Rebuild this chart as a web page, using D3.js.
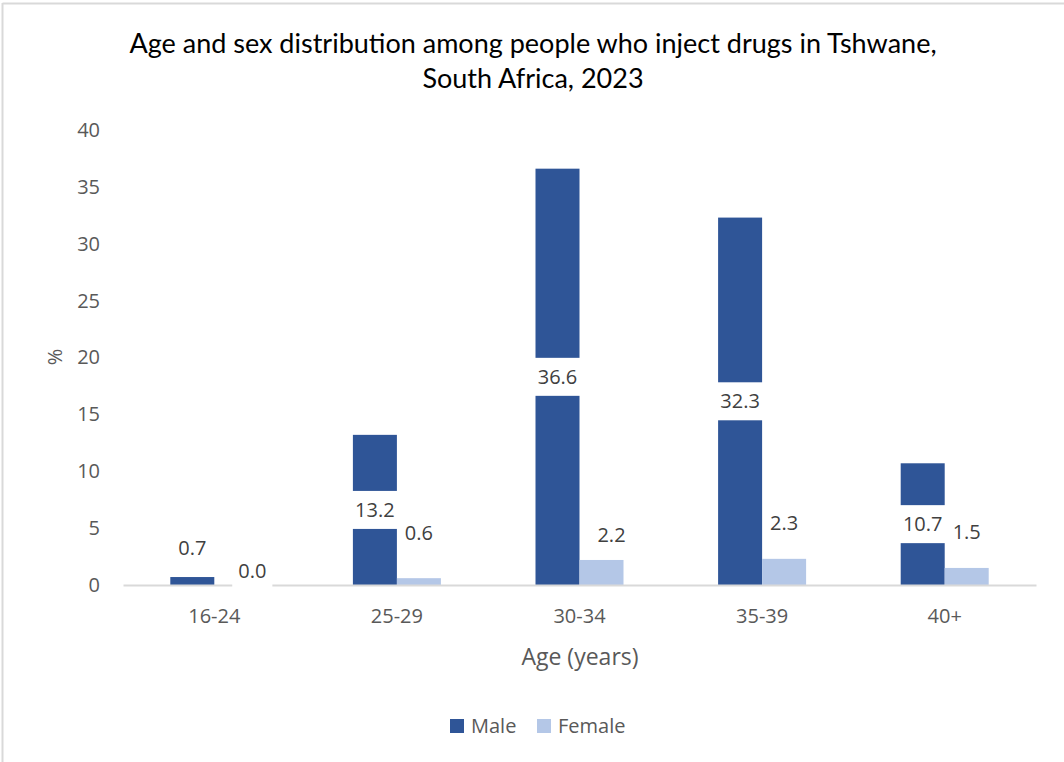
<!DOCTYPE html>
<html>
<head>
<meta charset="utf-8">
<script src="https://cdn.jsdelivr.net/npm/d3@7"></script>
<style>
  html, body { margin: 0; padding: 0; background: #ffffff; }
  svg { display: block; }
  text { font-family: "Open Sans", "Noto Sans", sans-serif; }
</style>
</head>
<body>
<svg id="chart" width="1064" height="762"></svg>
<script>
// Age groups and percentage of people who inject drugs, by sex
const ageGroups = ["16-24", "25-29", "30-34", "35-39", "40+"];
const maleValues = [0.7, 13.2, 36.6, 32.3, 10.7];
const femaleValues = [0.0, 0.6, 2.2, 2.3, 1.5];
const yTicks = [0, 5, 10, 15, 20, 25, 30, 35, 40];
const seriesNames = ["Male", "Female"];

// Label placement: labels on short bars sit above the bar (lift in px, x nudge in px)
const maleLabelLift = [29, null, null, null, null];
const femaleLabelLift = [14, 45, 25, 36, 36];
const femaleLabelShift = [16, 0, 10, 0, 0];

const colors = { Male: "#2F5597", Female: "#B4C7E7" };
const textGray = "#595959";
const labelGray = "#404040";

const svg = d3.select("#chart");
const W = 1064, H = 762;
const plot = { left: 123, right: 1036, top: 130, bottom: 585 };

// chart frame (top and left edges visible)
svg.append("line").attr("x1", 2.5).attr("x2", W).attr("y1", 3.5).attr("y2", 3.5)
  .attr("stroke", "#d9d9d9").attr("stroke-width", 2);
svg.append("line").attr("x1", 2.5).attr("x2", 2.5).attr("y1", 3).attr("y2", H)
  .attr("stroke", "#d9d9d9").attr("stroke-width", 2);

// title
const title = svg.append("text").attr("text-anchor", "middle").attr("fill", "#000")
  .style("font-family", "Lato, 'Open Sans', sans-serif").style("font-size", "27px");
title.append("tspan").attr("x", 533).attr("y", 53)
  .text("Age and sex distribution among people who inject drugs in Tshwane,");
title.append("tspan").attr("x", 533).attr("y", 88).text("South Africa, 2023");

// scales
const x = d3.scaleBand().domain(ageGroups).range([plot.left, plot.right]).padding(0);
const barW = 44;
const xs = d3.scaleBand().domain(seriesNames)
  .range([0, barW * 2]);
const y = d3.scaleLinear().domain([0, 40]).range([plot.bottom, plot.top]);

const groupStart = g => x(g) + x.bandwidth() / 2 - barW;

// y axis: tick labels only
const yAxis = d3.axisLeft(y).tickValues(yTicks).tickSize(0).tickPadding(0);
const gy = svg.append("g").attr("transform", `translate(100,0)`).call(yAxis);
gy.select(".domain").remove();
gy.selectAll("text").attr("fill", textGray).style("font-size", "20px")
  .style("font-family", "'Open Sans', sans-serif");

// y axis title
svg.append("text").attr("transform", `translate(62,357) rotate(-90)`)
  .attr("text-anchor", "middle").attr("fill", textGray).style("font-size", "20px")
  .text("%");

// bars
const rows = ageGroups.map((g, i) => ({ g, i, Male: maleValues[i], Female: femaleValues[i] }));
const barData = [];
rows.forEach(r => seriesNames.forEach(s => barData.push({ g: r.g, i: r.i, s, v: r[s] })));

svg.append("g").selectAll("rect").data(barData).join("rect")
  .attr("x", d => groupStart(d.g) + xs(d.s))
  .attr("width", xs.bandwidth())
  .attr("y", d => y(d.v))
  .attr("height", d => y(0) - y(d.v))
  .attr("fill", d => colors[d.s]);

// x axis line and labels
const xAxis = d3.axisBottom(x).tickSize(0).tickPadding(24);
const gx = svg.append("g").attr("transform", `translate(0,${plot.bottom})`).call(xAxis);
gx.select(".domain").attr("stroke", "#d9d9d9").attr("stroke-width", 2);
gx.selectAll("text").attr("fill", textGray).style("font-size", "20px")
  .style("font-family", "'Open Sans', sans-serif");

svg.append("text").attr("x", 580).attr("y", 665).attr("text-anchor", "middle")
  .attr("fill", textGray).style("font-size", "23px").text("Age (years)");

// data labels with white boxes
const labels = barData.map(d => {
  const cx = groupStart(d.g) + xs(d.s) + xs.bandwidth() / 2;
  let cy, dx = 0;
  if (d.s === "Male") {
    const lift = maleLabelLift[d.i];
    cy = lift == null ? (y(d.v) + y(0)) / 2 : y(d.v) - lift;
  } else {
    cy = y(d.v) - femaleLabelLift[d.i];
    dx = femaleLabelShift[d.i];
  }
  return { ...d, cx: cx + dx, cy, txt: d3.format(".1f")(d.v) };
});

const lg = svg.append("g");
const lab = lg.selectAll("g").data(labels).join("g")
  .attr("transform", d => `translate(${d.cx},${d.cy})`);
lab.append("text").attr("class", "lbl").attr("text-anchor", "middle").attr("dy", "0.36em")
  .attr("fill", labelGray).style("font-size", "20px").text(d => d.txt);
lab.each(function (d) {
  const t = d3.select(this).select("text").node();
  const w = t.getComputedTextLength();
  const padX = d.s === "Male" ? 11 : 6;
  d3.select(this).insert("rect", "text")
    .attr("x", -w / 2 - padX).attr("width", w + padX * 2)
    .attr("y", -19).attr("height", 38).attr("fill", "#ffffff");
});

// legend
const legend = svg.append("g");
const legendItems = [
  { name: "Male", sx: 450, tx: 471 },
  { name: "Female", sx: 537, tx: 558 }
];
legendItems.forEach(it => {
  legend.append("rect").attr("x", it.sx).attr("y", 719).attr("width", 14).attr("height", 14)
    .attr("fill", colors[it.name]);
  legend.append("text").attr("x", it.tx).attr("y", 733).attr("fill", textGray)
    .style("font-size", "20px").text(it.name);
});
</script>
</body>
</html>
